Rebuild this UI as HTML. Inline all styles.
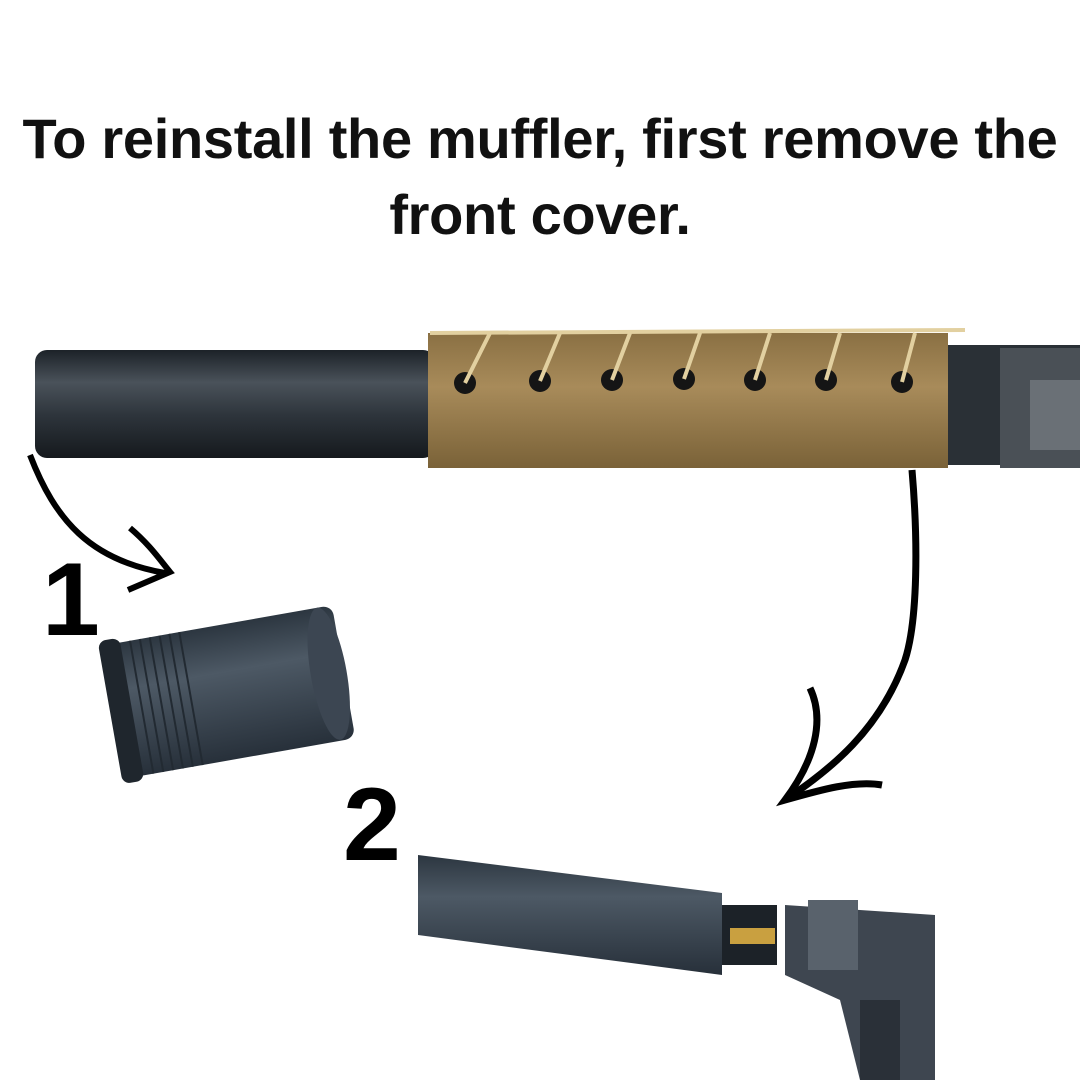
<!DOCTYPE html>
<html><head><meta charset="utf-8"><style>
html,body{margin:0;padding:0;background:#fff;}
body{width:1080px;height:1080px;overflow:hidden;position:relative;font-family:"Liberation Sans",sans-serif;}
.t{position:absolute;left:0;width:1080px;text-align:center;font-weight:bold;font-size:56px;color:#111;letter-spacing:-0.3px;white-space:nowrap;}
.n{position:absolute;font-weight:bold;color:#000;font-size:104px;line-height:1;}
</style></head><body>
<div class="t" style="top:106px;">To reinstall the muffler, first remove the</div>
<div class="t" style="top:182px;">front cover.</div>
<svg width="1080" height="1080" style="position:absolute;left:0;top:0">
<defs>
<linearGradient id="g1" x1="0" y1="0" x2="0" y2="1">
<stop offset="0" stop-color="#1c2228"/><stop offset="0.3" stop-color="#4a525a"/><stop offset="0.6" stop-color="#2e353c"/><stop offset="1" stop-color="#15191d"/></linearGradient>
<linearGradient id="g2" x1="0" y1="0" x2="0" y2="1">
<stop offset="0" stop-color="#8a7043"/><stop offset="0.4" stop-color="#a88b5a"/><stop offset="1" stop-color="#7a6238"/></linearGradient>
<linearGradient id="g3" x1="0" y1="0" x2="0" y2="1">
<stop offset="0" stop-color="#2c3640"/><stop offset="0.35" stop-color="#4d5965"/><stop offset="1" stop-color="#27303a"/></linearGradient>
</defs>
<rect x="35" y="350" width="400" height="108" rx="12" fill="url(#g1)"/>
<rect x="945" y="345" width="135" height="120" fill="#2a3036"/>
<rect x="1000" y="348" width="80" height="120" fill="#4a5056"/>
<rect x="1030" y="380" width="50" height="70" fill="#6a7076"/>
<rect x="428" y="333" width="520" height="135" fill="url(#g2)"/>
<g fill="#151515">
<circle cx="465" cy="383" r="11"/><circle cx="540" cy="381" r="11"/><circle cx="612" cy="380" r="11"/><circle cx="684" cy="379" r="11"/><circle cx="755" cy="380" r="11"/><circle cx="826" cy="380" r="11"/><circle cx="902" cy="382" r="11"/>
</g>
<g stroke="#e2d0a0" stroke-width="4" fill="none">
<path d="M465 383 L490 333 M540 381 L560 333 M612 380 L630 333 M684 379 L700 333 M755 380 L770 333 M826 380 L840 333 M902 382 L915 333"/>
<path d="M430 333 L965 330"/>
</g>
<path d="M30 455 C55 520 90 560 165 573" stroke="#000" stroke-width="6" fill="none"/>
<path d="M130 528 C150 545 160 560 170 572 L128 590" stroke="#000" stroke-width="6" fill="none"/>
<g transform="rotate(-10 225 690)">
<rect x="115" y="625" width="230" height="135" rx="10" fill="url(#g3)"/>
<ellipse cx="330" cy="692" rx="18" ry="67" fill="#3c4652"/>
<rect x="108" y="620" width="22" height="145" rx="8" fill="#1f262d"/>
<g stroke="#222a32" stroke-width="2"><path d="M140 625 V760 M150 625 V760 M160 625 V760 M170 625 V760 M180 625 V760 M190 625 V760"/></g>
</g>
<path d="M912 470 C918 540 918 620 905 660 C880 730 830 770 785 800" stroke="#000" stroke-width="7" fill="none"/>
<path d="M810 688 C825 720 815 760 785 800 C820 790 855 780 882 785" stroke="#000" stroke-width="7" fill="none"/>
<path d="M418 855 L722 893 L722 975 L418 935 Z" fill="url(#g3)"/>
<rect x="722" y="905" width="55" height="60" fill="#1c2228"/>
<rect x="730" y="928" width="45" height="16" fill="#c9a040"/>
<path d="M785 905 L935 915 L935 1080 L860 1080 L840 1000 L785 975 Z" fill="#3e4650"/>
<rect x="808" y="900" width="50" height="70" fill="#59626c"/>
<rect x="860" y="1000" width="40" height="80" fill="#2a3038"/>
</svg>
<div class="n" style="left:42px;top:548px;">1</div>
<div class="n" style="left:343px;top:773px;">2</div>
</body></html>
